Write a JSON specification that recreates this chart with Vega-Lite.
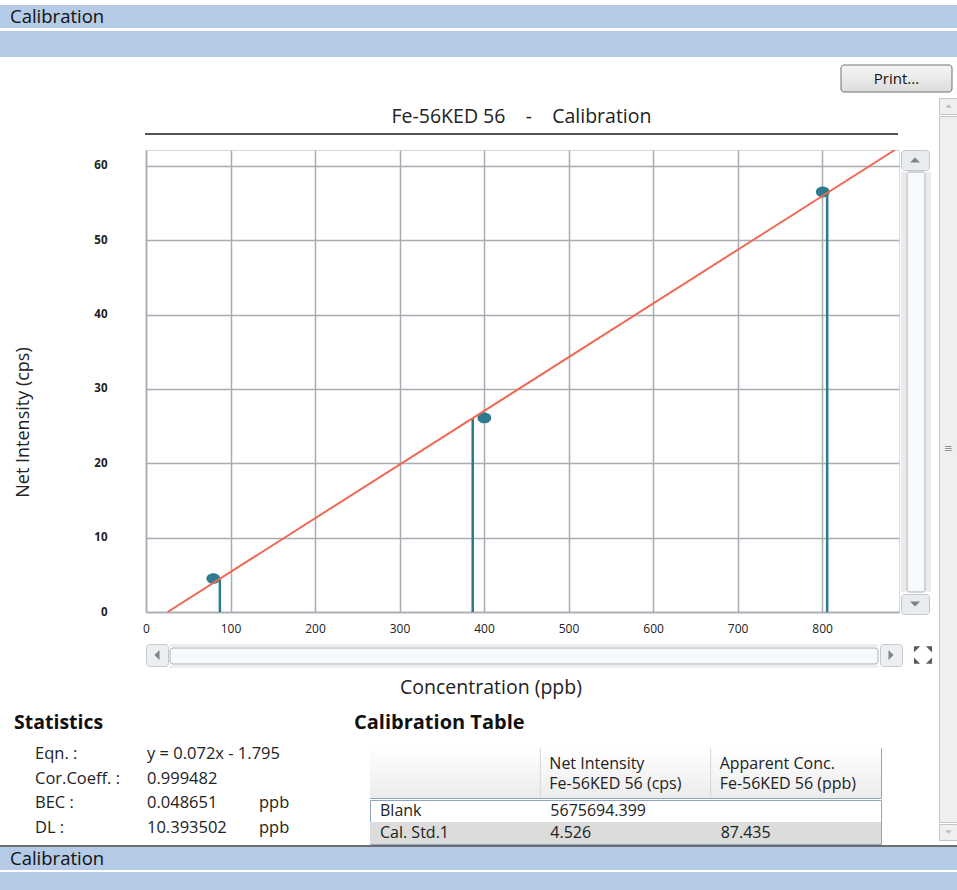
{
  "$schema": "https://vega.github.io/schema/vega-lite/v6.json",
  "padding": 0,
  "background": "white",
  "config": {
    "view": {"stroke": null},
    "concat": {"spacing": 0},
    "font": "Open Sans",
    "title": {"font": "Open Sans"},
    "axis": {"labelFont": "Open Sans", "titleFont": "Open Sans"}
  },
  "spacing": 0,
  "vconcat": [
    {"width": 957, "height": 5, "data": {"values": [{}]}, "mark": {"type": "rect", "opacity": 0}},
    {"width": 957, "height": 23, "view": {"fill": "#b4cae6"}, "data": {"values": [{"t": "Calibration"}]},
     "mark": {"type": "text", "align": "left", "dx": 10, "fontSize": 18.5, "color": "#111"},
     "encoding": {"x": {"field": "t", "type": "nominal", "axis": null, "bandPosition": 0, "scale": {"type": "band", "paddingInner": 0, "paddingOuter": 0}}, "text": {"field": "t"}}},
    {"width": 957, "height": 3, "data": {"values": [{}]}, "mark": {"type": "rect", "opacity": 0}},
    {"width": 957, "height": 26, "view": {"fill": "#b4cae6"}, "data": {"values": [{}]}, "mark": {"type": "rect", "opacity": 0}},
    {"width": 957, "height": 7, "data": {"values": [{}]}, "mark": {"type": "rect", "opacity": 0}},
    {"hconcat": [
      {"width": 840, "height": 28, "data": {"values": [{}]}, "mark": {"type": "rect", "opacity": 0}},
      {"width": 111, "height": 27, "data": {"values": [{"t": "Print..."}]},
       "layer": [
         {"mark": {"type": "rect", "cornerRadius": 3, "stroke": "#707070", "strokeWidth": 1, "color": {"gradient": "linear", "x1": 0, "y1": 0, "x2": 0, "y2": 1, "stops": [{"offset": 0, "color": "#f6f6f6"}, {"offset": 1, "color": "#dcdcdc"}]}}},
         {"mark": {"type": "text", "fontSize": 15, "color": "#111"}, "encoding": {"text": {"field": "t"}}}
       ]}
    ], "spacing": 0},
    {"width": 957, "height": 4, "data": {"values": [{}]}, "mark": {"type": "rect", "opacity": 0}},
    {"hconcat": [
      {"vconcat": [
        {"hconcat": [
          {"width": 145, "height": 35, "data": {"values": [{}]}, "mark": {"type": "rect", "opacity": 0}},
          {"width": 753, "height": 35, "data": {"values": [{"t": "Fe-56KED 56\u00a0\u00a0\u00a0\u00a0-\u00a0\u00a0\u00a0\u00a0Calibration"}]},
           "mark": {"type": "text", "fontSize": 19.5, "color": "#222", "dy": 1}, "encoding": {"text": {"field": "t"}}}
        ], "spacing": 0},
        {"hconcat": [
          {"width": 145, "height": 2, "data": {"values": [{}]}, "mark": {"type": "rect", "opacity": 0}},
          {"width": 753, "height": 2, "view": {"fill": "#555555"}, "data": {"values": [{}]}, "mark": {"type": "rect", "opacity": 0}}
        ], "spacing": 0},
        {"width": 938, "height": 14, "data": {"values": [{}]}, "mark": {"type": "rect", "opacity": 0}},
        {"hconcat": [
          {"width": 1, "height": 462, "data": {"values": [{}]}, "mark": {"type": "rect", "opacity": 0}},
          {"width": 753, "height": 462,
           "view": {"stroke": "#d5d8dc", "strokeWidth": 1},
           "layer": [
             {"data": {"values": [{"conc": 79.6, "stem": 87.4, "cps": 4.5}, {"conc": 400.4, "stem": 386.6, "cps": 26.1}, {"conc": 800.8, "stem": 806, "cps": 56.5}]},
              "mark": {"type": "rule", "color": "#2c7a90", "strokeWidth": 2.5},
              "encoding": {
                "x": {"field": "stem", "type": "quantitative", "scale": {"domain": [0, 891], "nice": false, "zero": false},
                      "axis": {"title": null, "values": [0, 100, 200, 300, 400, 500, 600, 700, 800], "grid": true, "gridColor": "#a9adb3", "gridWidth": 1.5, "ticks": true, "tickSize": 30, "tickOpacity": 0, "domainColor": "#a9adb3", "domainWidth": 1.5, "labelPadding": -19, "labelFlush": false, "labelFontSize": 12, "labelColor": "#222", "labelBaseline": "top"}},
                "y": {"field": "cps", "type": "quantitative", "scale": {"domain": [0, 62.15], "nice": false},
                      "axis": {"title": "Net Intensity (cps)", "values": [0, 10, 20, 30, 40, 50, 60], "grid": true, "gridColor": "#a9adb3", "gridWidth": 1.5, "ticks": true, "tickSize": 144, "tickOpacity": 0, "domainColor": "#a9adb3", "domainWidth": 1.5, "labelPadding": -105, "labelFlush": false, "labelFontSize": 11.5, "labelFontWeight": "bold", "labelColor": "#222", "titleFontSize": 18, "titleFontWeight": "normal", "titleColor": "#222", "titleX": -123, "titleY": 272, "titleBaseline": "middle", "titleAlign": "center", "titleAngle": -90}},
                "y2": {"datum": 0}
              }},
             {"data": {"values": [{"conc": 79.6, "cps": 4.5}, {"conc": 400.4, "cps": 26.1}, {"conc": 800.8, "cps": 56.5}]},
              "mark": {"type": "point", "filled": true, "opacity": 1, "shape": "M-1,0A1,0.78 0 1,1 1,0A1,0.78 0 1,1 -1,0Z", "size": 190, "color": "#2e7b90"},
              "encoding": {"x": {"field": "conc", "type": "quantitative"}, "y": {"field": "cps", "type": "quantitative"}}},
             {"data": {"values": [{"conc": 25.5, "cps": 0}, {"conc": 886, "cps": 62.15}]},
              "mark": {"type": "line", "color": "#ef6a55", "strokeWidth": 2, "clip": true},
              "encoding": {"x": {"field": "conc", "type": "quantitative"}, "y": {"field": "cps", "type": "quantitative"}}}
           ]},
          {"vconcat": [
            {"width": 28, "height": 20, "view": {"fill": "#e9ecef", "stroke": "#c3c8ce", "cornerRadius": 3}, "data": {"values": [{}]},
             "mark": {"type": "point", "filled": true, "shape": "M-1,0.5L1,0.5L0,-0.5Z", "size": 100, "color": "#4c5661"}},
            {"hconcat": [
              {"width": 5, "height": 420, "view": {"fill": "#e9ecef"}, "data": {"values": [{}]}, "mark": {"type": "rect", "opacity": 0}},
              {"width": 18, "height": 420, "data": {"values": [{}]}, "mark": {"type": "rect", "color": "#f8f9fa", "stroke": "#a4a9b0", "strokeWidth": 1, "cornerRadius": 2}},
              {"width": 5, "height": 420, "view": {"fill": "#e9ecef"}, "data": {"values": [{}]}, "mark": {"type": "rect", "opacity": 0}}
            ], "spacing": 0},
            {"width": 28, "height": 20, "view": {"fill": "#e9ecef", "stroke": "#c3c8ce", "cornerRadius": 3}, "data": {"values": [{}]},
             "mark": {"type": "point", "filled": true, "shape": "M-1,-0.5L1,-0.5L0,0.5Z", "size": 100, "color": "#4c5661"}}
          ], "spacing": 0}
        ], "spacing": 0},
        {"hconcat": [
          {"width": 145, "height": 22, "data": {"values": [{}]}, "mark": {"type": "rect", "opacity": 0}},
          {"width": 22, "height": 22, "view": {"fill": "#eceef1", "stroke": "#c6cad0", "cornerRadius": 3}, "data": {"values": [{}]},
           "mark": {"type": "point", "filled": true, "shape": "M0.5,-1L0.5,1L-0.5,0Z", "size": 100, "color": "#4c5661"}},
          {"vconcat": [
            {"width": 708, "height": 3, "view": {"fill": "#eceef1"}, "data": {"values": [{}]}, "mark": {"type": "rect", "opacity": 0}},
            {"width": 708, "height": 16, "data": {"values": [{}]}, "mark": {"type": "rect", "color": "#f8f9fa", "stroke": "#a8adb4", "strokeWidth": 1, "cornerRadius": 3}},
            {"width": 708, "height": 3, "view": {"fill": "#eceef1"}, "data": {"values": [{}]}, "mark": {"type": "rect", "opacity": 0}}
          ], "spacing": 0},
          {"width": 22, "height": 22, "view": {"fill": "#eceef1", "stroke": "#c6cad0", "cornerRadius": 3}, "data": {"values": [{}]},
           "mark": {"type": "point", "filled": true, "shape": "M-0.5,-1L-0.5,1L0.5,0Z", "size": 100, "color": "#4c5661"}},
          {"width": 8, "height": 22, "data": {"values": [{}]}, "mark": {"type": "rect", "opacity": 0}},
          {"width": 24, "height": 22,
           "data": {"values": [{"h": "l", "v": "t"}, {"h": "r", "v": "t"}, {"h": "r", "v": "b"}, {"h": "l", "v": "b"}]},
           "encoding": {
             "x": {"field": "h", "type": "nominal", "axis": null, "scale": {"type": "band", "domain": ["l", "r"], "paddingOuter": 0.15, "paddingInner": 0}},
             "y": {"field": "v", "type": "nominal", "axis": null, "scale": {"type": "band", "domain": ["t", "b"], "paddingOuter": 0.15, "paddingInner": 0}}
           },
           "layer": [
             {"transform": [{"filter": "datum.h === 'l' && datum.v === 't'"}], "mark": {"type": "point", "filled": true, "shape": "M-1,-1L0.6,-1L-1,0.6Z", "size": 60, "angle": 0, "color": "#5a5a5a", "opacity": 1}},
             {"transform": [{"filter": "datum.h === 'r' && datum.v === 't'"}], "mark": {"type": "point", "filled": true, "shape": "M-1,-1L0.6,-1L-1,0.6Z", "size": 60, "angle": 90, "color": "#5a5a5a", "opacity": 1}},
             {"transform": [{"filter": "datum.h === 'r' && datum.v === 'b'"}], "mark": {"type": "point", "filled": true, "shape": "M-1,-1L0.6,-1L-1,0.6Z", "size": 60, "angle": 180, "color": "#5a5a5a", "opacity": 1}},
             {"transform": [{"filter": "datum.h === 'l' && datum.v === 'b'"}], "mark": {"type": "point", "filled": true, "shape": "M-1,-1L0.6,-1L-1,0.6Z", "size": 60, "angle": 270, "color": "#5a5a5a", "opacity": 1}}
           ]}
        ], "spacing": 0},
        {"hconcat": [
          {"width": 145, "height": 40, "data": {"values": [{}]}, "mark": {"type": "rect", "opacity": 0}},
          {"width": 692, "height": 40, "data": {"values": [{"t": "Concentration (ppb)"}]},
           "mark": {"type": "text", "fontSize": 19.5, "color": "#222"}, "encoding": {"text": {"field": "t"}}}
        ], "spacing": 0},
        {"hconcat": [
          {"width": 14, "height": 30, "data": {"values": [{}]}, "mark": {"type": "rect", "opacity": 0}},
          {"width": 340, "height": 30, "data": {"values": [{"t": "Statistics"}]},
           "mark": {"type": "text", "align": "left", "fontSize": 19.5, "fontWeight": "bold", "color": "#111"},
           "encoding": {"x": {"field": "t", "type": "nominal", "axis": null, "bandPosition": 0, "scale": {"type": "band", "paddingInner": 0, "paddingOuter": 0}}, "text": {"field": "t"}}},
          {"width": 584, "height": 30, "data": {"values": [{"t": "Calibration Table"}]},
           "mark": {"type": "text", "align": "left", "fontSize": 20, "fontWeight": "bold", "color": "#111"},
           "encoding": {"x": {"field": "t", "type": "nominal", "axis": null, "bandPosition": 0, "scale": {"type": "band", "paddingInner": 0, "paddingOuter": 0}}, "text": {"field": "t"}}}
        ], "spacing": 0},
        {"width": 938, "height": 4, "data": {"values": [{}]}, "mark": {"type": "rect", "opacity": 0}},
        {"hconcat": [
          {"width": 33, "height": 98, "data": {"values": [{}]}, "mark": {"type": "rect", "opacity": 0}},
          {"width": 336, "height": 98,
           "data": {"values": [
             {"r": "Eqn", "c": "label", "t": "Eqn. :"}, {"r": "Eqn", "c": "value", "t": "y = 0.072x - 1.795"},
             {"r": "Cor", "c": "label", "t": "Cor.Coeff. :"}, {"r": "Cor", "c": "value", "t": "0.999482"},
             {"r": "BEC", "c": "label", "t": "BEC :"}, {"r": "BEC", "c": "value", "t": "0.048651"}, {"r": "BEC", "c": "unit", "t": "ppb"},
             {"r": "DL", "c": "label", "t": "DL :"}, {"r": "DL", "c": "value", "t": "10.393502"}, {"r": "DL", "c": "unit", "t": "ppb"}
           ]},
           "mark": {"type": "text", "align": "left", "baseline": "middle", "fontSize": 16.5, "color": "#222", "dx": 2},
           "encoding": {
             "x": {"field": "c", "type": "nominal", "axis": null, "bandPosition": 0, "scale": {"type": "band", "domain": ["label", "value", "unit"], "paddingInner": 0, "paddingOuter": 0}},
             "y": {"field": "r", "type": "nominal", "axis": null, "scale": {"type": "band", "domain": ["Eqn", "Cor", "BEC", "DL"], "paddingInner": 0, "paddingOuter": 0}},
             "text": {"field": "t"}
           }},
          {"vconcat": [
            {"width": 511, "height": 5, "data": {"values": [{}]}, "mark": {"type": "rect", "opacity": 0}},
            {"width": 511, "height": 50,
             "view": {"stroke": "#8fa4c2", "strokeWidth": 1},
             "data": {"values": [
               {"r": "h1", "c": "c1", "t": "Net Intensity"}, {"r": "h1", "c": "c2", "t": "Apparent Conc."},
               {"r": "h2", "c": "c1", "t": "Fe-56KED 56 (cps)"}, {"r": "h2", "c": "c2", "t": "Fe-56KED 56 (ppb)"}
             ]},
             "layer": [
               {"transform": [{"filter": "datum.r === 'h1' && datum.c === 'c1'"}],
                "mark": {"type": "rect", "color": {"gradient": "linear", "x1": 0, "y1": 0, "x2": 0, "y2": 1, "stops": [{"offset": 0, "color": "#ffffff"}, {"offset": 1, "color": "#ececec"}]}}},
               {"transform": [{"filter": "datum.r === 'h1'"}],
                "mark": {"type": "rule", "color": "#d6d6d6", "strokeWidth": 1},
                "encoding": {"x": {"field": "c", "type": "nominal", "axis": null, "bandPosition": 0, "scale": {"type": "band", "domain": ["c0", "c1", "c2"], "paddingInner": 0, "paddingOuter": 0}}}},
               {"mark": {"type": "text", "align": "left", "baseline": "middle", "fontSize": 16, "color": "#222", "dx": 9, "dy": 1},
                "encoding": {
                  "x": {"field": "c", "type": "nominal", "axis": null, "bandPosition": 0, "scale": {"type": "band", "domain": ["c0", "c1", "c2"], "paddingInner": 0, "paddingOuter": 0}},
                  "y": {"field": "r", "type": "nominal", "axis": null, "scale": {"type": "band", "domain": ["h1", "h2"], "paddingInner": 0, "paddingOuter": 0.2}},
                  "text": {"field": "t"}
                }}
             ]},
            {"width": 511, "height": 44,
             "view": {"stroke": "#8fa4c2", "strokeWidth": 1},
             "data": {"values": [
               {"r": "Blank", "c": "c0", "t": "Blank"}, {"r": "Blank", "c": "c1", "t": "5675694.399"},
               {"r": "Cal. Std.1", "c": "c0", "t": "Cal. Std.1"}, {"r": "Cal. Std.1", "c": "c1", "t": "4.526"}, {"r": "Cal. Std.1", "c": "c2", "t": "87.435"}
             ]},
             "encoding": {
               "y": {"field": "r", "type": "nominal", "axis": null, "scale": {"type": "band", "domain": ["Blank", "Cal. Std.1"], "paddingInner": 0, "paddingOuter": 0}}
             },
             "layer": [
               {"transform": [{"filter": "datum.r === 'Cal. Std.1' && datum.c === 'c0'"}],
                "mark": {"type": "rect", "color": "#dcdcdc"}},
               {"mark": {"type": "text", "align": "left", "baseline": "middle", "fontSize": 16, "color": "#222", "dx": 10},
                "encoding": {
                  "x": {"field": "c", "type": "nominal", "axis": null, "bandPosition": 0, "scale": {"type": "band", "domain": ["c0", "c1", "c2"], "paddingInner": 0, "paddingOuter": 0}},
                  "text": {"field": "t"}
                }}
             ]}
          ], "spacing": 0}
        ], "spacing": 0}
      ], "spacing": 0},
      {"vconcat": [
        {"width": 19, "height": 16, "view": {"fill": "#efefef", "stroke": "#c4c4c4"}, "data": {"values": [{}]},
         "mark": {"type": "point", "filled": true, "shape": "M-1,0.5L1,0.5L0,-0.5Z", "size": 36, "color": "#9a9a9a"}},
        {"width": 19, "height": 706, "view": {"fill": "#efefef", "stroke": "#c4c4c4"}, "data": {"values": [{"t": "≡"}]},
         "mark": {"type": "text", "fontSize": 14, "color": "#777", "dy": -20}, "encoding": {"text": {"field": "t"}}},
        {"width": 19, "height": 16, "view": {"fill": "#efefef", "stroke": "#c4c4c4"}, "data": {"values": [{}]},
         "mark": {"type": "point", "filled": true, "shape": "M-1,-0.5L1,-0.5L0,0.5Z", "size": 36, "color": "#9a9a9a"}}
      ], "spacing": 0}
    ], "spacing": 0},
    {"width": 957, "height": 2, "view": {"fill": "#6e6e6e"}, "data": {"values": [{}]}, "mark": {"type": "rect", "opacity": 0}},
    {"width": 957, "height": 23, "view": {"fill": "#b4cae6"}, "data": {"values": [{"t": "Calibration"}]},
     "mark": {"type": "text", "align": "left", "dx": 10, "fontSize": 18.5, "color": "#111"},
     "encoding": {"x": {"field": "t", "type": "nominal", "axis": null, "bandPosition": 0, "scale": {"type": "band", "paddingInner": 0, "paddingOuter": 0}}, "text": {"field": "t"}}},
    {"width": 957, "height": 2, "data": {"values": [{}]}, "mark": {"type": "rect", "opacity": 0}},
    {"width": 957, "height": 18, "view": {"fill": "#b4cae6"}, "data": {"values": [{}]}, "mark": {"type": "rect", "opacity": 0}}
  ]
}
